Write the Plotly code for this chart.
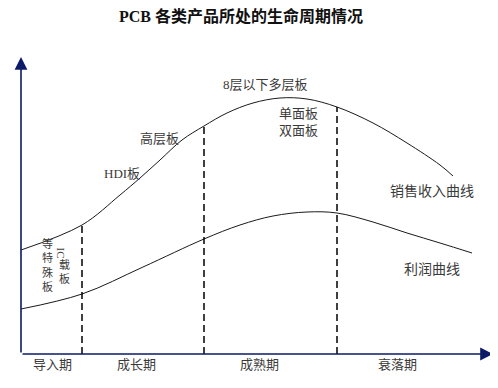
import numpy as np
import plotly.graph_objects as go

# ---------------- data ----------------
# time axis (arbitrary units, 0 = origin) and curve values (0 = time axis)
sales_t = [0, 61, 99, 119, 139, 161, 183, 206, 232, 259, 286, 316, 352, 386, 419, 432]
sales_v = [104, 129, 159, 176, 194, 214, 228, 241, 251, 256, 255, 247, 231, 211, 189, 178]

profit_t = [0, 61, 122, 183, 219, 252, 286, 316, 352, 386, 419, 451]
profit_v = [45, 60, 87, 115, 129, 138, 142, 141, 132, 121, 111, 101]

stage_bounds = [61, 183, 316]
stage_names = ["导入期", "成长期", "成熟期", "衰落期"]

title_text = "PCB 各类产品所处的生命周期情况"
curve_names = ["销售收入曲线", "利润曲线"]

# ---------------- styles ----------------
AXIS_COLOR = "#0c1a68"
LINE_COLOR = "#1a1a1a"
TEXT_COLOR = "#3a3a3a"
FONT = "Liberation Serif, Noto Sans CJK SC, serif"
PAGE_OFFSET = 8  # default body margin of the html page

fig = go.Figure()

fig.add_trace(go.Scatter(x=sales_t, y=sales_v, mode="lines",
                         line=dict(color=LINE_COLOR, width=1, shape="spline", smoothing=1.0),
                         name=curve_names[0], hoverinfo="skip"))
fig.add_trace(go.Scatter(x=profit_t, y=profit_v, mode="lines",
                         line=dict(color=LINE_COLOR, width=1, shape="spline", smoothing=1.0),
                         name=curve_names[1], hoverinfo="skip"))

for b in stage_bounds:
    top = float(np.interp(b, sales_t, sales_v))
    fig.add_trace(go.Scatter(x=[b, b], y=[0, top], mode="lines",
                             line=dict(color="#000000", width=1.5, dash="7px,4px"),
                             hoverinfo="skip", showlegend=False))

ann = []
# axes arrows
ann.append(dict(x=0, y=297, ax=0, ay=0, xref="x", yref="y", axref="x", ayref="y",
                text="", showarrow=True, arrowhead=2, arrowsize=1.6, arrowwidth=1.6,
                arrowcolor=AXIS_COLOR, standoff=0, startstandoff=0))
ann.append(dict(x=472, y=0, ax=0, ay=0, xref="x", yref="y", axref="x", ayref="y",
                text="", showarrow=True, arrowhead=2, arrowsize=1.6, arrowwidth=1.6,
                arrowcolor=AXIS_COLOR, standoff=0, startstandoff=0))

def label(x, y, text, size=13, angle=0):
    ann.append(dict(x=x, y=y, xref="x", yref="y", text=text, showarrow=False,
                    textangle=angle, xanchor="center", yanchor="middle", borderpad=0,
                    font=dict(family=FONT, size=size, color=TEXT_COLOR)))

# stage labels
stage_label_x = [31, 115, 238, 376]
for name, sx in zip(stage_names, stage_label_x):
    label(sx, -10, name, size=13)

# product labels
label(244, 270, "8层以下多层板", size=13)
label(277, 241, "单面板", size=13)
label(277, 224, "双面板", size=13)
label(138, 216, "高层板", size=13)
label(101, 181, "HDI板", size=13)

# vertical labels
label(26, 89, "等<br>特<br>殊<br>板", size=11)
label(40, 101.5, "IC", size=11, angle=90)
label(43, 82.4, "载<br>板", size=11)

# curve names
label(411, 163, curve_names[0], size=14)
label(411, 85, curve_names[1], size=14)

fig.update_layout(
    width=498, height=388, autosize=False,
    margin=dict(l=0, r=0, t=0, b=0),
    paper_bgcolor="white", plot_bgcolor="white",
    showlegend=False,
    xaxis=dict(range=[-21 + PAGE_OFFSET, 477 + PAGE_OFFSET], visible=False, fixedrange=True),
    yaxis=dict(range=[-34 - PAGE_OFFSET, 354 - PAGE_OFFSET], visible=False, fixedrange=True),
    annotations=ann,
    title=dict(text="<b>" + title_text + "</b>", x=(241 - PAGE_OFFSET) / 498,
               y=1 - (16 - PAGE_OFFSET) / 388,
               xanchor="center", yanchor="middle",
               font=dict(family=FONT, size=16, color="#111111")),
)

fig.write_html("out.html")
